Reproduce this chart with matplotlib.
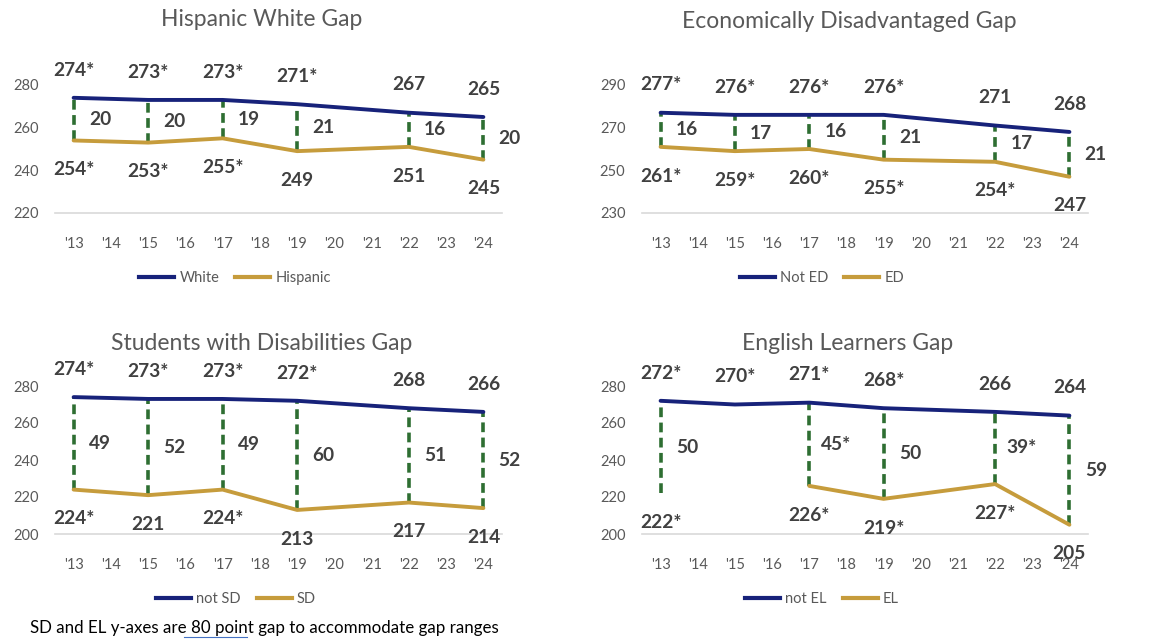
import numpy as np
import matplotlib.pyplot as plt
from matplotlib.lines import Line2D

plt.rcParams['font.family'] = ['Lato', 'DejaVu Sans']

W, H = 1167, 640

years = ["'13", "'14", "'15", "'16", "'17", "'18", "'19", "'20", "'21", "'22", "'23", "'24"]
data_years = ["'13", "'15", "'17", "'19", "'22", "'24"]

# Hispanic / White
white = [274, 273, 273, 271, 267, 265]
white_sig = [1, 1, 1, 1, 0, 0]
hispanic = [254, 253, 255, 249, 251, 245]
hispanic_sig = [1, 1, 1, 0, 0, 0]
hw_gap = [20, 20, 19, 21, 16, 20]
hw_gap_sig = [0, 0, 0, 0, 0, 0]

# Economically disadvantaged
not_ed = [277, 276, 276, 276, 271, 268]
not_ed_sig = [1, 1, 1, 1, 0, 0]
ed = [261, 259, 260, 255, 254, 247]
ed_sig = [1, 1, 1, 1, 1, 0]
ed_gap = [16, 17, 16, 21, 17, 21]
ed_gap_sig = [0, 0, 0, 0, 0, 0]

# Students with disabilities
not_sd = [274, 273, 273, 272, 268, 266]
not_sd_sig = [1, 1, 1, 1, 0, 0]
sd = [224, 221, 224, 213, 217, 214]
sd_sig = [1, 0, 1, 0, 0, 0]
sd_gap = [49, 52, 49, 60, 51, 52]
sd_gap_sig = [0, 0, 0, 0, 0, 0]

# English learners
not_el = [272, 270, 271, 268, 266, 264]
not_el_sig = [1, 1, 1, 1, 0, 0]
el = [222, None, 226, 219, 227, 205]
el_sig = [1, 0, 1, 1, 1, 0]
el_gap = [50, None, 45, 50, 39, 59]
el_gap_sig = [0, 0, 1, 0, 1, 0]

NAVY = '#17227a'
GOLD = '#c69c3c'
GREEN = '#2e6e32'
LBL = '#404040'
GRAY = '#595959'

fig = plt.figure(figsize=(W / 100, H / 100), dpi=100)


def px_axes(x0, x1, ytop, ybot):
    return fig.add_axes([x0 / W, 1 - ybot / H, (x1 - x0) / W, (ybot - ytop) / H])


def runs(xs, vals):
    out, cur = [], []
    for x, v in zip(xs, vals):
        if v is None:
            if cur:
                out.append(cur)
            cur = []
        else:
            cur.append((x, v))
    if cur:
        out.append(cur)
    return out


def panel(ax, hi, hi_sig, lo, lo_sig, gap, gap_sig, names, ylim, yticks,
          title, title_xy, leg_xy):
    xs = [years.index(y) for y in data_years]
    for vals, c in [(hi, NAVY), (lo, GOLD)]:
        for r in runs(xs, vals):
            if len(r) > 1:
                ax.plot([p[0] for p in r], [p[1] for p in r], color=c, lw=2.8,
                        solid_capstyle='round', zorder=3)
    for i, x in enumerate(xs):
        h, l = hi[i], lo[i]
        if h is not None and l is not None:
            ax.plot([x, x], [l, h], color=GREEN, lw=2.6, dashes=[2.7, 1.5], zorder=2)
        if h is not None:
            ax.annotate(str(h) + ('*' if hi_sig[i] else ''), (x, h), xytext=(0, 20),
                        textcoords='offset points', ha='center', va='center',
                        fontsize=13.8, fontweight='bold', color=LBL)
        if l is not None:
            ax.annotate(str(l) + ('*' if lo_sig[i] else ''), (x, l), xytext=(0, -21),
                        textcoords='offset points', ha='center', va='center',
                        fontsize=13.8, fontweight='bold', color=LBL, zorder=5)
        if gap[i] is not None:
            ax.annotate(str(gap[i]) + ('*' if gap_sig[i] else ''), (x, (h + l) / 2),
                        xytext=(19, 0), textcoords='offset points', ha='center', va='center',
                        fontsize=13.8, fontweight='bold', color=LBL)
    ax.set_xlim(-0.5, 11.5)
    ax.set_ylim(*ylim)
    ax.set_yticks(yticks)
    ax.set_xticks(range(len(years)))
    ax.set_xticklabels(years)
    ax.tick_params(length=0, labelsize=10.5, labelcolor=GRAY)
    ax.tick_params(axis='x', pad=17)
    ax.tick_params(axis='y', pad=12)
    for s in ['top', 'left', 'right']:
        ax.spines[s].set_visible(False)
    ax.spines['bottom'].set_color('#d9d9d9')
    ax.spines['bottom'].set_linewidth(1.2)
    fig.text(title_xy[0] / W, 1 - title_xy[1] / H, title, ha='center', va='center',
             fontsize=16.5, color=GRAY)
    handles = [Line2D([], [], color=NAVY, lw=3), Line2D([], [], color=GOLD, lw=3)]
    ax.legend(handles, names, loc='center', bbox_to_anchor=(leg_xy[0] / W, 1 - leg_xy[1] / H),
              bbox_transform=fig.transFigure, ncol=2, frameon=False, handlelength=2.4,
              handletextpad=0.35, columnspacing=1.1, fontsize=10.5, labelcolor=GRAY)


ax1 = px_axes(55, 502, 85, 213)
panel(ax1, white, white_sig, hispanic, hispanic_sig, hw_gap, hw_gap_sig,
      ['White', 'Hispanic'], (220, 280), [220, 240, 260, 280],
      'Hispanic White Gap', (262, 20), (235, 278))

ax2 = px_axes(642, 1088, 85, 213)
panel(ax2, not_ed, not_ed_sig, ed, ed_sig, ed_gap, ed_gap_sig,
      ['Not ED', 'ED'], (230, 290), [230, 250, 270, 290],
      'Economically Disadvantaged Gap', (849, 22), (822, 278))

ax3 = px_axes(55, 502, 386, 534)
panel(ax3, not_sd, not_sd_sig, sd, sd_sig, sd_gap, sd_gap_sig,
      ['not SD', 'SD'], (200, 280), [200, 220, 240, 260, 280],
      'Students with Disabilities Gap', (262, 343), (236, 599))

ax4 = px_axes(642, 1088, 386, 534)
panel(ax4, not_el, not_el_sig, el, el_sig, el_gap, el_gap_sig,
      ['not EL', 'EL'], (200, 280), [200, 220, 240, 260, 280],
      'English Learners Gap', (848, 343), (822, 599))

fig.text(30 / W, 1 - 628 / H, 'SD and EL y-axes are 80 point gap to accommodate gap ranges',
         ha='left', va='center', fontsize=12.2, color='black')
fig.add_artist(Line2D([184 / W, 247 / W], [1 - 637 / H, 1 - 637 / H], color='#4472c4', lw=0.8))

fig.savefig('out.png', dpi=100)
